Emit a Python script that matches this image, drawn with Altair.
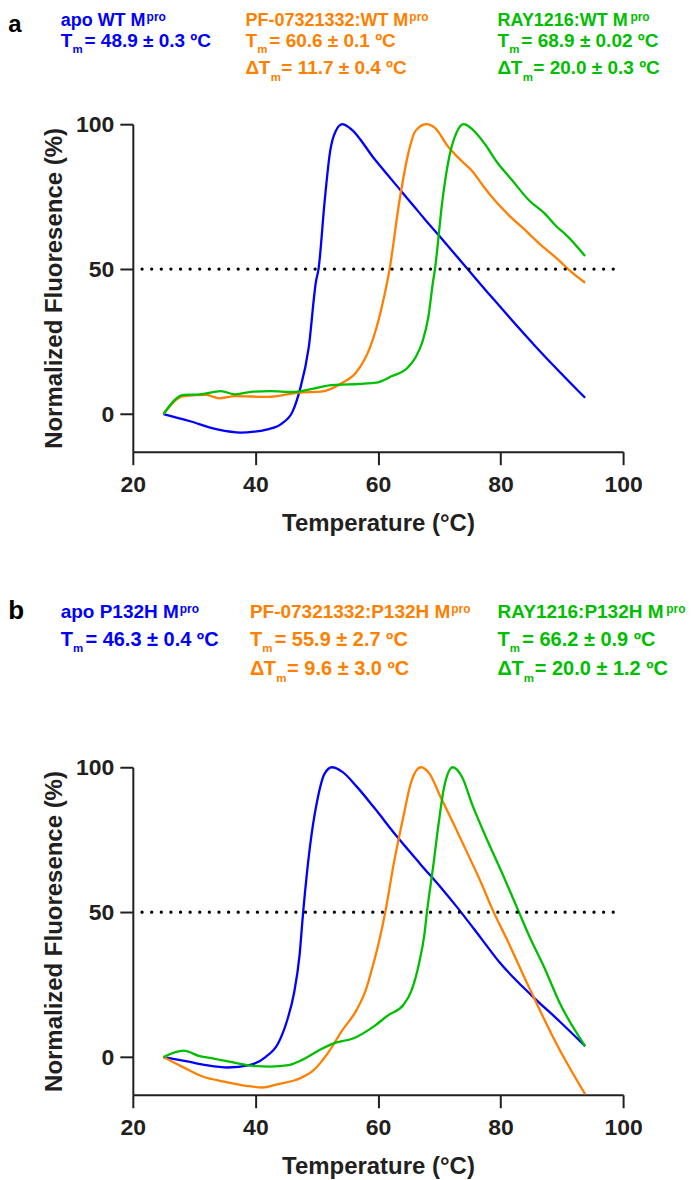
import altair as alt
import pandas as pd

FONT = "Liberation Sans, Arial, Helvetica, sans-serif"
INK = "#231F20"

SERIES = ["apo", "PF-07321332", "RAY1216"]
COLORS = ["#0000FF", "#FF7F00", "#00BE00"]
TICKS_X = [20, 40, 60, 80, 100]
TICKS_Y = [0, 50, 100]

# ---- panel a (WT Mpro) ----
a_apo_T = [25, 29.2, 33.8, 37.6, 39.8, 42.0, 44.3, 46.1, 47.2, 48.7, 49.9, 50.3, 51.3, 52.2, 53.1, 54.2, 55.4, 59.5, 63.8, 65.9, 67.6, 70.2, 74.0, 78.7, 85.9, 93.8]
a_apo_F = [0, -2.4, -5.3, -6.4, -6.1, -5.3, -3.3, 1.0, 7.9, 22.9, 45.9, 50.0, 73.4, 90.7, 97.6, 100, 98.7, 87.8, 76.9, 71.6, 67.3, 61.0, 51.6, 40.0, 22.9, 5.6]

a_pf_T = [25, 28.3, 32.0, 34.1, 36.7, 42.0, 47.2, 50.7, 54.2, 56.5, 58.8, 60.6, 61.9, 63.5, 64.9, 66.1, 67.9, 69.3, 71.4, 73.7, 75.4, 77.2, 79.2, 81.5, 83.9, 86.8, 89.4, 91.4, 93.8]
a_pf_F = [0, 6.2, 6.6, 5.4, 6.2, 5.9, 7.4, 7.7, 10.8, 14.5, 23.5, 36.7, 50.0, 73.4, 89.5, 97.6, 100, 98.7, 92.4, 87.2, 83.8, 78.6, 73.4, 68.3, 63.7, 57.9, 53.3, 49.3, 45.3]

a_ray_T = [25, 28.3, 30.9, 34.4, 36.7, 39.6, 42.5, 46.0, 49.5, 52.4, 55.3, 59.7, 62.3, 64.7, 66.1, 67.3, 68.2, 69.0, 69.3, 70.5, 71.6, 72.8, 74.0, 75.4, 77.5, 79.5, 81.8, 84.8, 87.1, 89.1, 90.9, 93.8]
a_ray_F = [0, 6.6, 6.8, 7.9, 6.8, 7.7, 7.9, 7.6, 8.8, 10.0, 10.2, 10.8, 13.1, 15.7, 19.4, 25.2, 33.2, 45.9, 50.0, 73.4, 88.4, 97.0, 100, 98.2, 93.0, 86.7, 80.9, 73.4, 69.4, 64.8, 61.4, 54.5]

# ---- panel b (P132H Mpro) ----
b_apo_T = [25, 29.1, 32.0, 35.5, 39.0, 41.7, 43.7, 45.2, 46.3, 47.2, 47.8, 48.9, 50.1, 51.3, 52.5, 54.2, 56.5, 59.4, 62.9, 67.0, 70.5, 72.8, 76.9, 79.8, 85.0, 89.7, 93.8]
b_apo_F = [0, -1.6, -2.8, -3.6, -2.8, 0.1, 4.7, 12.8, 22.0, 35.0, 50.1, 72.5, 88.6, 97.8, 100, 98.4, 93.4, 86.0, 76.6, 66.4, 57.9, 52.0, 40.8, 32.8, 21.4, 12.2, 3.8]

b_pf_T = [25, 28.0, 31.5, 35.0, 38.5, 41.1, 43.7, 47.2, 49.5, 51.8, 54.2, 56.5, 58.0, 59.1, 60.3, 61.2, 62.6, 64.1, 65.5, 67.0, 68.4, 70.2, 72.2, 74.5, 76.9, 78.6, 81.0, 85.0, 89.1, 93.8]
b_pf_F = [0, -3.3, -6.8, -8.5, -9.9, -10.5, -9.3, -7.4, -4.5, 1.3, 9.3, 16.2, 23.0, 31.0, 41.0, 50.1, 67.0, 82.5, 95.5, 100, 97.8, 89.8, 81.1, 70.8, 59.8, 51.3, 40.8, 22.5, 4.7, -12.8]

b_ray_T = [25, 28.3, 30.9, 33.2, 36.7, 39.6, 42.5, 45.4, 47.8, 50.7, 53.0, 55.9, 59.4, 61.7, 64.1, 65.5, 66.7, 67.6, 68.0, 69.0, 69.9, 70.8, 72.2, 73.7, 75.4, 77.7, 80.4, 82.4, 85.0, 87.1, 89.7, 93.8]
b_ray_F = [0, 2.2, 0.3, -0.5, -2.0, -3.0, -3.3, -2.8, -0.8, 2.7, 4.9, 6.4, 10.7, 14.5, 17.9, 23.1, 32.3, 42.7, 50.1, 65.6, 80.6, 93.2, 100, 96.7, 87.0, 75.5, 62.8, 53.0, 40.3, 31.1, 18.5, 3.8]

# reference line (50 %)
REF_T = [21.5]
REF_T2 = [98.4]
REF_F = [50]

# header texts
A_NAMES = ["apo WT M", "PF-07321332:WT M", "RAY1216:WT M"]
A_TM = ["= 48.9 ± 0.3 ºC", "= 60.6 ± 0.1 ºC", "= 68.9 ± 0.02 ºC"]
A_DTM = ["", "= 11.7 ± 0.4 ºC", "= 20.0 ± 0.3 ºC"]
B_NAMES = ["apo P132H M", "PF-07321332:P132H M", "RAY1216:P132H M"]
B_TM = ["= 46.3 ± 0.4 ºC", "= 55.9 ± 2.7 ºC", "= 66.2 ± 0.9 ºC"]
B_DTM = ["", "= 9.6 ± 3.0 ºC", "= 20.0 ± 1.2 ºC"]

PLOT_W, PLOT_H = 491, 328

# approximate advance widths (em) of bold Liberation Sans, used to place superscripts
ADV = {'a': .556, 'p': .611, 'o': .611, ' ': .278, 'W': .944, 'T': .611, 'M': .833,
       'P': .667, 'F': .611, '-': .333, ':': .333, 'R': .722, 'A': .722, 'Y': .667, 'H': .722}


def text_width(s, size):
    return sum(ADV.get(ch, .556) for ch in s) * size


def make_df(T1, F1, T2, F2, T3, F3):
    frames = []
    for name, T, F in zip(SERIES, [T1, T2, T3], [F1, F2, F3]):
        frames.append(pd.DataFrame({"temperature": T, "fluor": F, "series": name}))
    return pd.concat(frames, ignore_index=True)


def txt(text, x, y, size, color):
    return alt.Chart(alt.Data(values=[{}])).mark_text(
        text=text, align="left", baseline="alphabetic", font=FONT,
        fontSize=size, fontWeight="bold", color=color,
    ).encode(x=alt.value(x), y=alt.value(y))


def panel(df, label, label_y, label_size, col_x, names, tms, dtms, lines_y, s1, s2, k):
    X = alt.X("temperature:Q", scale=alt.Scale(domain=[20, 100], nice=False, zero=False),
              axis=alt.Axis(values=TICKS_X, title="Temperature (°C)", labelFlush=False,
                            labelPadding=9, titlePadding=15))
    Y = alt.Y("fluor:Q", scale=alt.Scale(domain=[-13, 100], nice=False, zero=False),
              axis=alt.Axis(values=TICKS_Y, title="Normalized Fluoresence (%)",
                            labelPadding=6, titlePadding=9))
    lines = alt.Chart(df).mark_line(strokeWidth=2.3, interpolate="monotone").encode(
        x=X, y=Y,
        color=alt.Color("series:N", scale=alt.Scale(domain=SERIES, range=COLORS), legend=None),
        order="temperature:Q",
    )
    ref = pd.DataFrame({"temperature": REF_T, "temperature2": REF_T2, "fluor": REF_F})
    rule = alt.Chart(ref).mark_rule(color="black", strokeWidth=3.2, strokeDash=[0.1, 9.53],
                                    strokeCap="round").encode(
        x="temperature:Q", x2="temperature2:Q", y="fluor:Q")

    layers = [lines, rule, txt(label, -124.7, label_y, label_size, "black")]
    y1, y2, y3 = lines_y
    for i in range(3):
        c = COLORS[i]
        x0 = col_x[i]
        layers.append(txt(names[i], x0, y1, s1, c))
        layers.append(txt("pro", x0 + text_width(names[i], s1) + 1, y1 - 5, 12, c))
        layers.append(txt("T", x0, y2, s2, c))
        layers.append(txt("m", x0 + 11.8 * k, y2 + 6.7, 11.5, c))
        layers.append(txt(tms[i], x0 + 23.8 * k, y2, s2, c))
        if dtms[i]:
            layers.append(txt("Δ", x0, y3, s2, c))
            layers.append(txt("T", x0 + 13.3 * k, y3, s2, c))
            layers.append(txt("m", x0 + 25.3 * k, y3 + 6.7, 11.5, c))
            layers.append(txt(dtms[i], x0 + 35.8 * k, y3, s2, c))
    return alt.layer(*layers).properties(width=PLOT_W, height=PLOT_H)


OX = 132.7
A_OY = 122.7
B_OY = 766.7

df_a = make_df(a_apo_T, a_apo_F, a_pf_T, a_pf_F, a_ray_T, a_ray_F)
df_b = make_df(b_apo_T, b_apo_F, b_pf_T, b_pf_F, b_ray_T, b_ray_F)

pa = panel(df_a, "a", 30 - A_OY, 24,
           [60.5 - OX, 245.6 - OX, 498 - OX],
           A_NAMES, A_TM, A_DTM,
           (24.5 - A_OY, 45.0 - A_OY, 72.7 - A_OY), 18, 19, 1.0)
pb = panel(df_b, "b", 618.3 - B_OY, 26,
           [60.5 - OX, 250 - OX, 498 - OX],
           B_NAMES, B_TM, B_DTM,
           (617.3 - B_OY, 645 - B_OY, 674.3 - B_OY), 19, 20, 1.04)

chart = alt.vconcat(pa, pb, spacing=62).properties(
    padding={"left": 0, "top": 1.5, "right": 0, "bottom": 0}
).configure_view(stroke=None).configure_axis(
    grid=False,
    domainColor=INK, domainWidth=2,
    tickColor=INK, tickWidth=2, tickSize=13,
    labelFont=FONT, labelFontSize=23, labelFontWeight="bold", labelColor=INK,
    titleFont=FONT, titleFontSize=24, titleFontWeight="bold", titleColor=INK,
)

chart.save("out.html", embed_options={"renderer": "svg", "actions": False})
